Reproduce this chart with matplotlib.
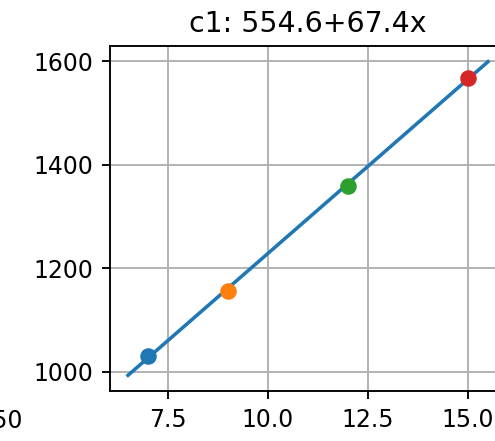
import numpy as np
import matplotlib
matplotlib.use("Agg")
import matplotlib.pyplot as plt

# measurements for group c1
x_vals = [7, 9, 12, 15]
y_vals = [1030, 1155, 1358, 1567]
point_colors = ["C0", "C1", "C2", "C3"]
intercept = 554.6
slope = 67.4

DPI = 170
fig = plt.figure(figsize=(495 / DPI, 441 / DPI), dpi=DPI)
ax = fig.add_axes([110 / 495, 50 / 441, 396 / 495, 345 / 441])

for xv, yv, c in zip(x_vals, y_vals, point_colors):
    ax.scatter([xv], [yv], color=c, zorder=3)

xs = np.linspace(min(x_vals) - 0.5, max(x_vals) + 0.5, 50)
ax.plot(xs, intercept + slope * xs, color="C0", zorder=2)

ax.set_xticks([7.5, 10.0, 12.5, 15.0])
ax.set_yticks([1000, 1200, 1400, 1600])
ax.grid(True)
ax.set_title(f"c1: {intercept}+{slope}x")

# tick label of the neighbouring panel
fig.text(23 / 495, 1 - 421 / 441, "1.50", ha="right", va="center", fontsize=10)

fig.savefig("out.png", dpi=DPI)
